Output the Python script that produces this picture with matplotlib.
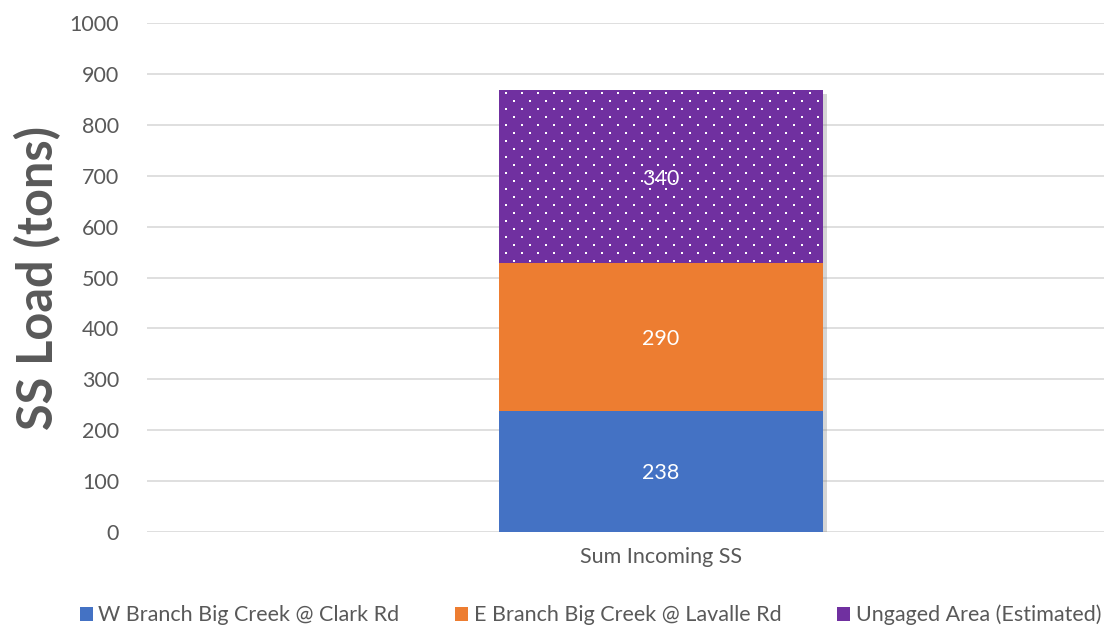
import numpy as np
import matplotlib.pyplot as plt
import matplotlib as mpl
from matplotlib import patheffects as pe

plt.rcParams['font.family'] = ['Lato', 'DejaVu Sans']

categories = ['Sum Incoming SS']
series_names = ['W Branch Big Creek @ Clark Rd',
                'E Branch Big Creek @ Lavalle Rd',
                'Ungaged Area (Estimated)']
values = [238, 290, 340]
colors = ['#4472C4', '#ED7D31', '#7030A0']
dotted = [False, False, True]

fig = plt.figure(figsize=(11.04, 6.29), dpi=100)
ax = fig.add_axes([147/1104, 97/629, 1028/1104, 509/629])
ax.set_xlim(-0.5, 0.5)
ax.set_ylim(0, 1000)

x = np.arange(len(categories))
w = 0.315

# faint shadow behind the whole stack
ax.bar(x, sum(values), w, color='#7030A0', linewidth=0, zorder=2,
       path_effects=[pe.SimplePatchShadow(offset=(3, -3), shadow_rgbFace='#888888', alpha=0.35),
                     pe.Normal()])

bottom = 0
handles = []
for name, v, c, d in zip(series_names, values, colors, dotted):
    bars = ax.bar(x, v, w, bottom=bottom, color=c, label=name, linewidth=0, zorder=3)
    handles.append(bars)
    if d:
        # white dot texture, 16px across, rows 8px apart, staggered
        p = bars.patches[0]
        bb = p.get_window_extent()
        ys = np.arange(bb.y1 - 2.5, bb.y0, -8.0)
        pts_x, pts_y = [], []
        for i, yy in enumerate(ys):
            start = bb.x0 + (6.5 if i % 2 == 0 else 14.5)
            xs = np.arange(start, bb.x1, 16.0)
            pts_x.extend(xs)
            pts_y.extend([yy] * len(xs))
        ax.plot(pts_x, pts_y, 's', ms=1.5, mew=0, color='white',
                transform=mpl.transforms.IdentityTransform(), clip_path=p, zorder=3.5)
    ax.text(x[0], bottom + v / 2, str(v), ha='center', va='center_baseline',
            color='white', fontsize=15.5, zorder=4)
    bottom += v

ax.set_yticks(np.arange(0, 1001, 100))
ax.set_xticks(x)
ax.set_xticklabels(categories)
ax.tick_params(axis='both', length=0, labelsize=15.5, labelcolor='#595959')
ax.tick_params(axis='y', pad=20)
ax.tick_params(axis='x', pad=11)
ax.grid(axis='y', color='#D9D9D9', linewidth=1.2, zorder=0)
for s in ax.spines.values():
    s.set_visible(False)
ax.set_ylabel('SS Load (tons)', fontsize=35, fontweight='bold', color='#595959', labelpad=6)

fig.legend(handles, series_names, loc='center', bbox_to_anchor=(0.535, 0.022), ncol=3,
           frameon=False, fontsize=15.5, labelcolor='#595959', handlelength=0.6,
           handleheight=0.6, handletextpad=0.25, columnspacing=2.6)

fig.savefig('out.png', dpi=100)
